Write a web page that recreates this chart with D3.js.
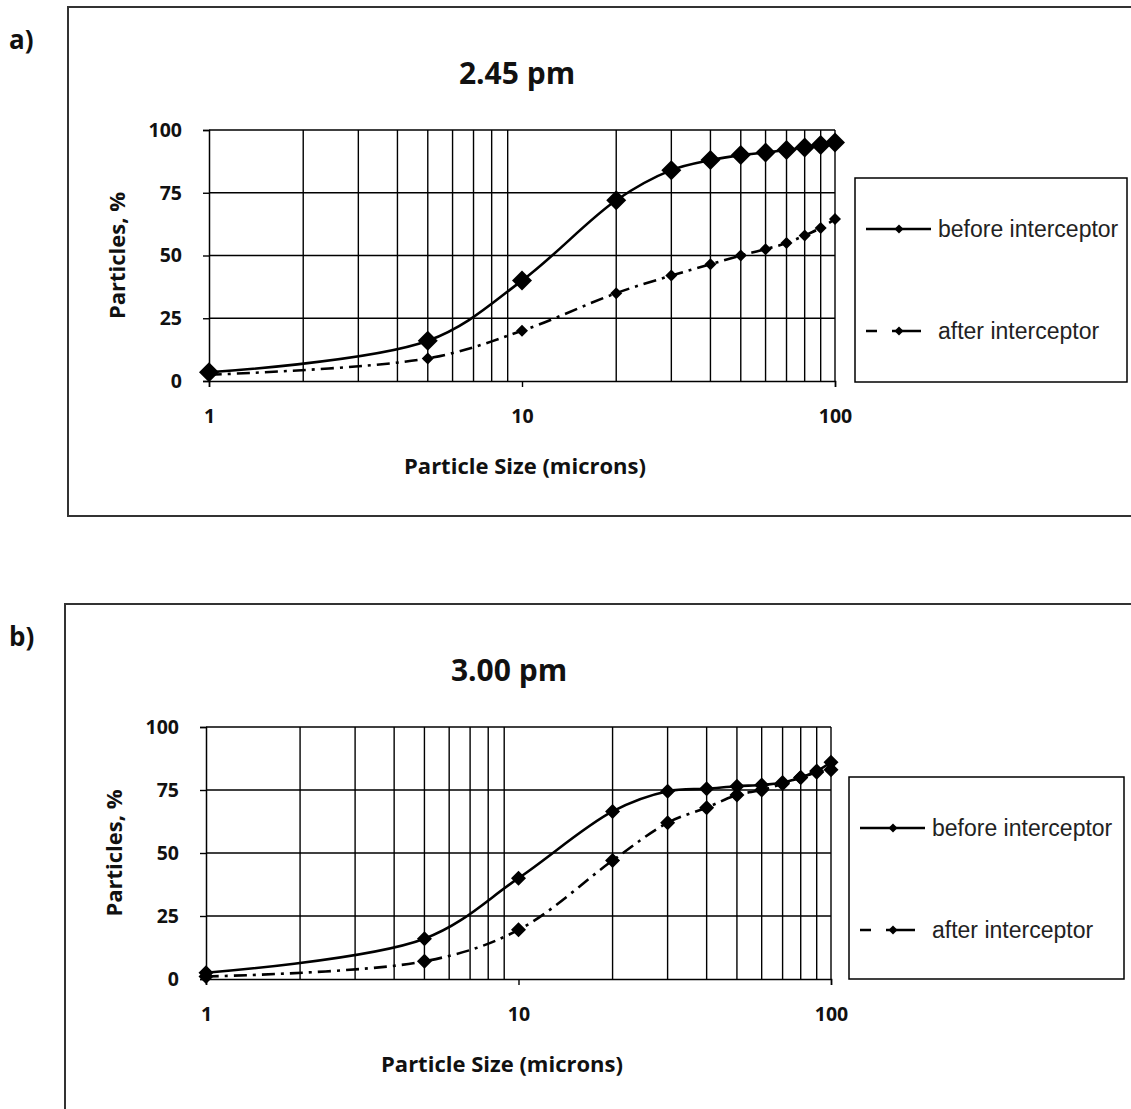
<!DOCTYPE html>
<html>
<head>
<meta charset="utf-8">
<script src="https://cdn.jsdelivr.net/npm/d3@7"></script>
<style>
body { margin: 0; background: #fff; }
svg text { fill: #111; }
.bold { font-family: "Open Sans", sans-serif; font-weight: bold; }
.leg { font-family: "Liberation Sans", Arial, sans-serif; font-size: 23px; fill: #222; }
</style>
</head>
<body>
<div id="chart"></div>
<script>
// particle sizes (microns) sampled
var sizes = [1, 5, 10, 20, 30, 40, 50, 60, 70, 80, 90, 100];

// a) 2.45 pm
var before_a = [3.5, 16, 40, 72, 84, 88, 90, 91, 92, 93, 94, 95];
var after_a  = [2.5, 9, 20, 35, 42, 46.5, 50, 52.5, 55, 58, 61, 64.5];

// b) 3.00 pm
var before_b = [2.5, 16, 40, 66.5, 74.5, 75.5, 76.5, 77, 78, 80, 82.5, 86];
var after_b  = [1, 7, 19.5, 47, 62, 68, 73, 75, 77.5, 80, 82, 83];

var y_ticks = [0, 25, 50, 75, 100];
var x_ticks = [1, 10, 100];
var grid_x = [2, 3, 4, 5, 6, 7, 8, 9, 20, 30, 40, 50, 60, 70, 80, 90, 100];
var series_names = ["before interceptor", "after interceptor"];

var svg = d3.select("#chart").append("svg")
	.attr("width", 1131)
	.attr("height", 1109);

function diamond(r) {
	return "M0," + (-r) + "L" + r + ",0L0," + r + "L" + (-r) + ",0Z";
}

function draw_panel(cfg) {
	var g = svg.append("g");

	// outer frame
	g.append("rect")
		.attr("x", cfg.frame[0]).attr("y", cfg.frame[1])
		.attr("width", cfg.frame[2]).attr("height", cfg.frame[3])
		.attr("fill", "none").attr("stroke", "#333").attr("stroke-width", 2);

	g.append("text").attr("class", "bold")
		.attr("x", 9).attr("y", cfg.frame[1] + 42)
		.style("font-size", "26px")
		.text(cfg.letter);

	var x = d3.scaleLog().domain([1, 100]).range([cfg.left, cfg.right]);
	var y = d3.scaleLinear().domain([0, 100]).range([cfg.bottom, cfg.top]);

	// grid
	g.selectAll(".gx").data(grid_x).enter().append("line")
		.attr("x1", function(d) { return x(d); }).attr("x2", function(d) { return x(d); })
		.attr("y1", cfg.top).attr("y2", cfg.bottom)
		.attr("stroke", "#000").attr("stroke-width", 1.4);
	g.selectAll(".gy").data(y_ticks.slice(1)).enter().append("line")
		.attr("x1", cfg.left).attr("x2", cfg.right)
		.attr("y1", function(d) { return y(d); }).attr("y2", function(d) { return y(d); })
		.attr("stroke", "#000").attr("stroke-width", 1.4);

	// axes
	var ax = g.append("g").attr("transform", "translate(0," + cfg.bottom + ")")
		.call(d3.axisBottom(x).tickValues(x_ticks).tickFormat(d3.format("d")).tickSizeOuter(0).tickSize(6).tickPadding(22));
	var ay = g.append("g").attr("transform", "translate(" + cfg.left + ",0)")
		.call(d3.axisLeft(y).tickValues(y_ticks).tickSizeOuter(0).tickSize(6).tickPadding(21));
	[ax, ay].forEach(function(a) {
		a.select(".domain").attr("stroke", "#000").attr("stroke-width", 1.5);
		a.selectAll(".tick line").attr("stroke", "#000").attr("stroke-width", 1.4);
		a.selectAll("text").attr("class", "bold").style("font-size", "19.5px").attr("fill", "#111");
	});

	// titles
	g.append("text").attr("class", "bold")
		.attr("x", cfg.title_x).attr("y", cfg.top - 46)
		.attr("text-anchor", "middle")
		.style("font-size", "30px")
		.text(cfg.title);
	g.append("text").attr("class", "bold")
		.attr("x", cfg.xlab_x).attr("y", cfg.bottom + 93)
		.attr("text-anchor", "middle")
		.style("font-size", "22px")
		.text("Particle Size (microns)");
	g.append("text").attr("class", "bold")
		.attr("transform", "translate(" + (cfg.left - 84) + "," + ((cfg.top + cfg.bottom) / 2) + ") rotate(-90)")
		.attr("text-anchor", "middle")
		.style("font-size", "22px")
		.text("Particles, %");

	// curves
	var line = d3.line()
		.x(function(d) { return x(d[0]); })
		.y(function(d) { return y(d[1]); })
		.curve(d3.curveCatmullRom.alpha(0.5));
	var series = [
		{ vals: cfg.before, dash: null, r: cfg.r_before },
		{ vals: cfg.after, dash: "13,6,3,6", r: cfg.r_after }
	];
	series.forEach(function(s) {
		var pts = sizes.map(function(d, i) { return [d, s.vals[i]]; });
		g.append("path").datum(pts)
			.attr("d", line)
			.attr("fill", "none").attr("stroke", "#000").attr("stroke-width", 2.6)
			.attr("stroke-dasharray", s.dash);
		g.selectAll(null).data(pts).enter().append("path")
			.attr("d", diamond(s.r))
			.attr("transform", function(d) { return "translate(" + x(d[0]) + "," + y(d[1]) + ")"; })
			.attr("fill", "#000");
	});

	// legend
	var lb = cfg.legend;
	g.append("rect")
		.attr("x", lb[0]).attr("y", lb[1]).attr("width", lb[2]).attr("height", lb[3])
		.attr("fill", "#fff").attr("stroke", "#000").attr("stroke-width", 1.5);
	var lx = lb[0] + 11;
	var rows = [lb[1] + 51, lb[1] + 153];
	g.append("line")
		.attr("x1", lx).attr("x2", lx + 65).attr("y1", rows[0]).attr("y2", rows[0])
		.attr("stroke", "#000").attr("stroke-width", 2.6);
	g.append("path").attr("d", diamond(4.5))
		.attr("transform", "translate(" + (lx + 33) + "," + rows[0] + ")");
	g.append("line")
		.attr("x1", lx).attr("x2", lx + 55).attr("y1", rows[1]).attr("y2", rows[1])
		.attr("stroke", "#000").attr("stroke-width", 2.6)
		.attr("stroke-dasharray", "11,15,29,100");
	g.append("path").attr("d", diamond(4.5))
		.attr("transform", "translate(" + (lx + 33) + "," + rows[1] + ")");
	g.selectAll(null).data(series_names).enter().append("text")
		.attr("class", "leg")
		.attr("x", lx + 72)
		.attr("y", function(d, i) { return rows[i]; })
		.attr("dy", "0.35em")
		.text(function(d) { return d; });
}

draw_panel({
	letter: "a)", title: "2.45 pm",
	frame: [68, 7, 1100, 509],
	left: 209, right: 835, top: 130, bottom: 381,
	title_x: 517, xlab_x: 525,
	before: before_a, after: after_a, r_before: 10, r_after: 6,
	legend: [855, 178, 272, 204]
});

draw_panel({
	letter: "b)", title: "3.00 pm",
	frame: [65, 604, 1100, 560],
	left: 206, right: 831, top: 727, bottom: 979,
	title_x: 509, xlab_x: 502,
	before: before_b, after: after_b, r_before: 7.5, r_after: 7.5,
	legend: [849, 777, 275, 202]
});
</script>
</body>
</html>
